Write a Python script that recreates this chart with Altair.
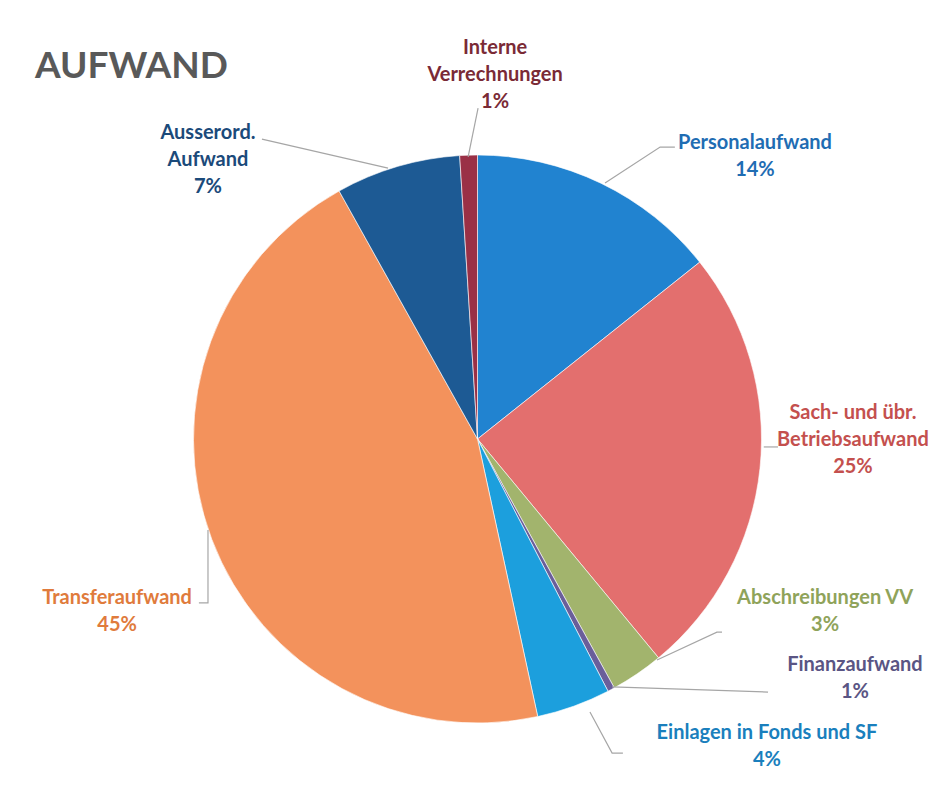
import altair as alt
import pandas as pd

# ---- data (clockwise from 12 o'clock) ----
categories = [
    "Personalaufwand",
    "Sach- und übr. Betriebsaufwand",
    "Abschreibungen VV",
    "Finanzaufwand",
    "Einlagen in Fonds und SF",
    "Transferaufwand",
    "Ausserord. Aufwand",
    "Interne Verrechnungen",
]
values = [14.3, 24.7, 3.0, 0.4, 4.2, 45.3, 7.1, 1.0]
label_texts = [
    "Personalaufwand\n14%",
    "Sach- und übr.\nBetriebsaufwand\n25%",
    "Abschreibungen VV\n3%",
    "Finanzaufwand\n1%",
    "Einlagen in Fonds und SF\n4%",
    "Transferaufwand\n45%",
    "Ausserord.\nAufwand\n7%",
    "Interne\nVerrechnungen\n1%",
]
title_text = "AUFWAND"

# ---- styling / layout ----
slice_colors = ["#2183D0", "#E36F6E", "#A2B46D", "#6A5E9A",
                "#1C9FDD", "#F3925C", "#1D5A94", "#9A3046"]
text_colors = ["#1F6DB3", "#C4504E", "#8FA35A", "#5A5584",
               "#1A7FBD", "#E07B3C", "#1B4A7A", "#7A2A36"]

R = 284          # pie radius in px; layout units below are in pie radii
W, H = 891, 660  # plot area
LH = 27          # label line height
FS = 20          # label font size
# label block centres (units of pie radius, relative to pie centre)
label_x = [0.977, 1.322, 1.224, 1.329, 1.019, -1.269, -0.949, 0.062]
label_y = [0.996, -0.004, -0.609, -0.842, -1.081, -0.606, 0.982, 1.282]
# leader-line polylines (units of pie radius)
leaders = [
    [(0.449, 0.901), (0.643, 1.028), (0.695, 1.028)],
    [(1.008, -0.028), (1.058, -0.028)],
    [(0.632, -0.778), (0.843, -0.680), (0.861, -0.680)],
    [(0.474, -0.873), (1.023, -0.891)],
    [(0.396, -0.961), (0.474, -1.106), (0.512, -1.106)],
    [(-0.949, -0.320), (-0.949, -0.577), (-0.981, -0.577)],
    [(-0.315, 0.954), (-0.759, 1.056)],
    [(-0.033, 0.993), (0.002, 1.165)],
]
title_pos = (-1.558, 1.271)

# Vega places the first line of a multi-line text at the anchor: shift so the block is centred
first_line_y = [
    y + (t.count("\n")) * LH / 2 / R for y, t in zip(label_y, label_texts)
]

pie_df = pd.DataFrame({
    "category": categories,
    "value": values,
    "order": list(range(len(categories))),
})
lab_df = pd.DataFrame({
    "category": categories,
    "label": label_texts,
    "lx": label_x,
    "ly": first_line_y,
    "tcolor": text_colors,
})
rows = []
for c, pts in zip(categories, leaders):
    for i, (px, py) in enumerate(pts):
        rows.append({"category": c, "i": i, "px": px, "py": py})
line_df = pd.DataFrame(rows)
title_df = pd.DataFrame({"t": [title_text], "tx": [title_pos[0]], "ty": [title_pos[1]]})

xs = alt.Scale(domain=[-(W / 2) / R, (W / 2) / R], nice=False, zero=False)
ys = alt.Scale(domain=[-(H / 2) / R, (H / 2) / R], nice=False, zero=False)

pie = alt.Chart(pie_df).mark_arc(radius=R, stroke="#ffffff", strokeWidth=0.6).encode(
    theta=alt.Theta("value:Q", stack=True),
    color=alt.Color("category:N", scale=alt.Scale(domain=categories, range=slice_colors), legend=None),
    order=alt.Order("order:Q", sort="ascending"),
)

lines = alt.Chart(line_df).mark_line(color="#A6A6A6", strokeWidth=1.2).encode(
    x=alt.X("px:Q", scale=xs, axis=None),
    y=alt.Y("py:Q", scale=ys, axis=None),
    detail="category:N",
    order="i:Q",
)

labels = alt.Chart(lab_df).transform_calculate(
    lines="split(datum.label, '\\n')"
).mark_text(
    font="Lato", fontSize=FS, fontWeight="bold", lineHeight=LH,
    align="center", baseline="middle",
).encode(
    x=alt.X("lx:Q", scale=xs, axis=None),
    y=alt.Y("ly:Q", scale=ys, axis=None),
    text=alt.Text("lines:N"),
    color=alt.Color("tcolor:N", scale=None),
)

title = alt.Chart(title_df).mark_text(
    font="Lato", fontSize=37, fontWeight="bold", color="#595959",
    align="left", baseline="alphabetic",
).encode(
    x=alt.X("tx:Q", scale=xs, axis=None),
    y=alt.Y("ty:Q", scale=ys, axis=None),
    text="t:N",
)

chart = alt.layer(pie, lines, labels, title).resolve_scale(
    color="independent"
).properties(
    width=W, height=H,
    padding={"left": 24, "top": 101, "right": 8, "bottom": 11},
    autosize="none",
    background="#ffffff",
).configure_view(stroke=None)

chart.save("out.html", embed_options={"renderer": "svg", "actions": False})
